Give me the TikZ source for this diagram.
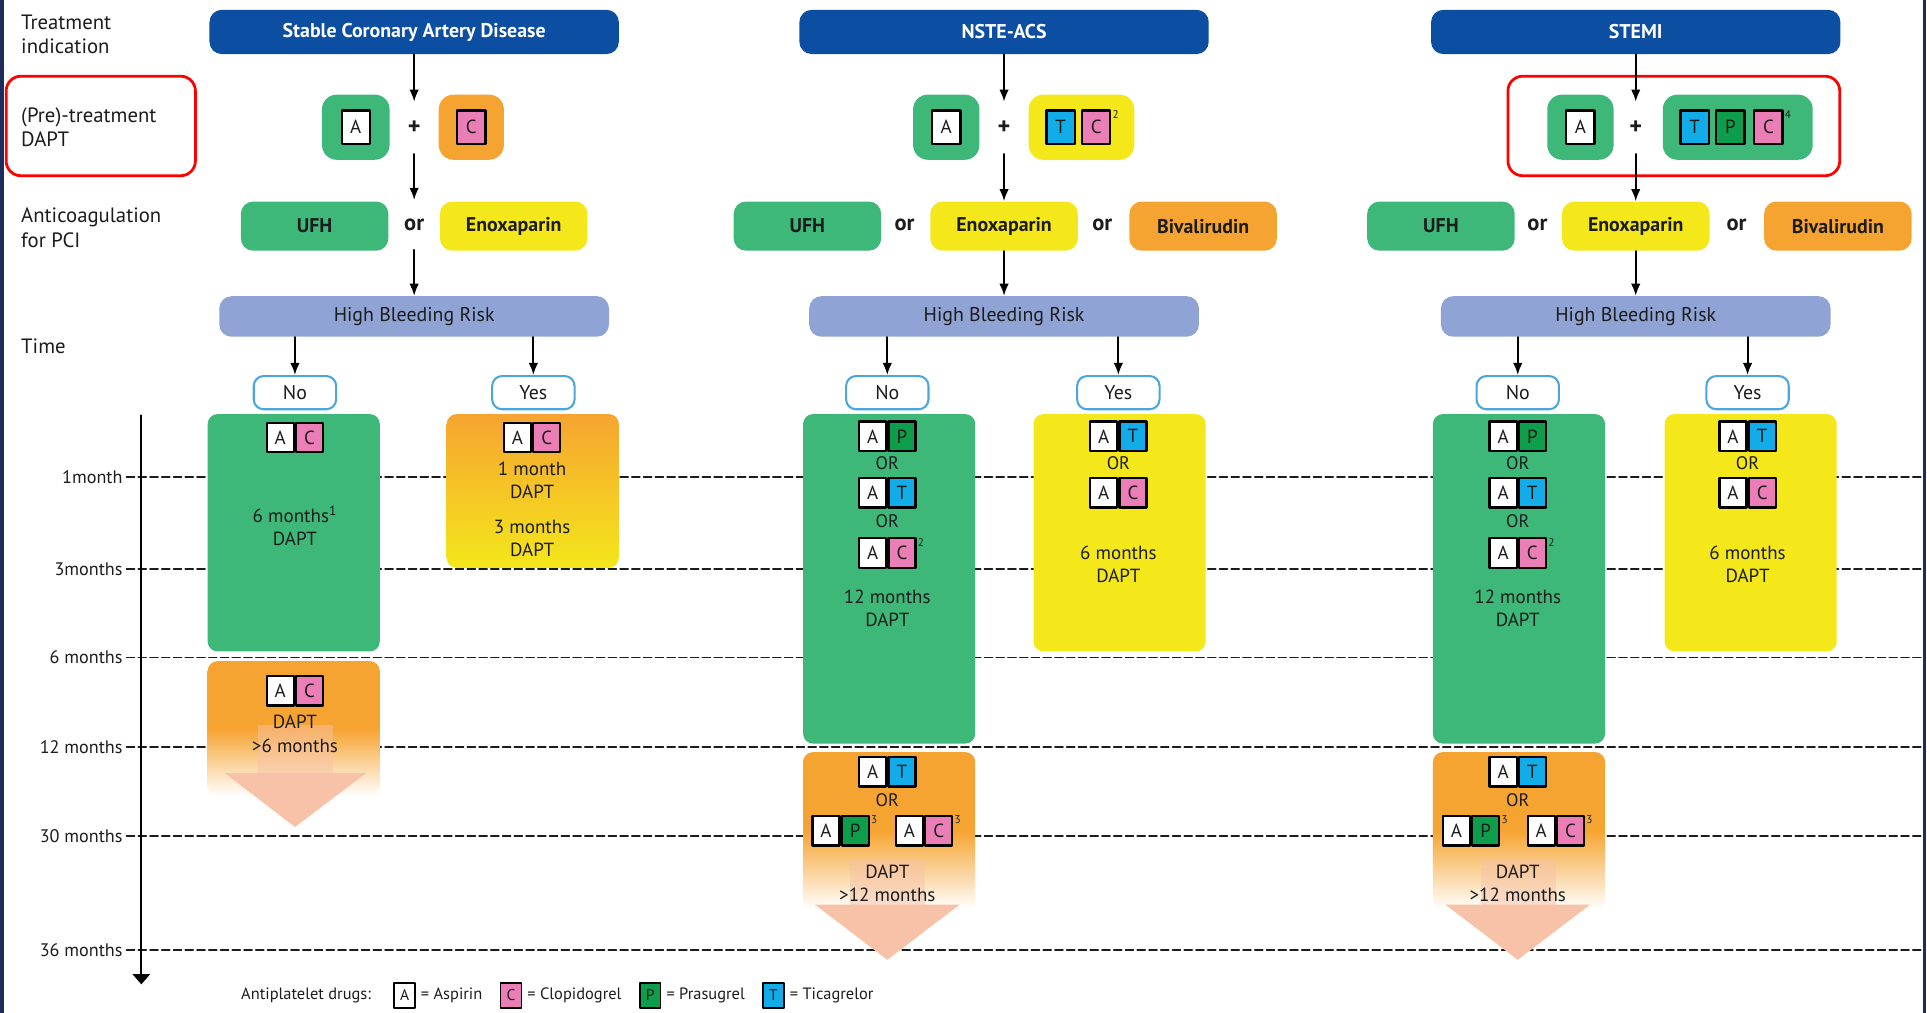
\documentclass[tikz,border=0pt]{standalone}
\usepackage{fontspec}
\setmainfont{PT Sans}
\usepackage{tikz}
\usetikzlibrary{arrows.meta,positioning,calc}

\definecolor{hdblue}{HTML}{0B4EA2}
\definecolor{boxgreen}{HTML}{3DB879}
\definecolor{boxorange}{HTML}{F6A431}
\definecolor{boxyellow}{HTML}{F4E71A}
\definecolor{hbrblue}{HTML}{8FA3D4}
\definecolor{drugpink}{HTML}{EC7EB7}
\definecolor{drugblue}{HTML}{12ADE8}
\definecolor{druggreen}{HTML}{0E9D4B}
\definecolor{nyblue}{HTML}{4AA6DD}
\definecolor{peach}{HTML}{F8C2A8}
\definecolor{navyframe}{HTML}{1C2C5E}
\definecolor{ink}{HTML}{1C1C1C}

\tikzset{
  hdbox/.style={fill=hdblue, text=white, rounded corners=0.25cm, minimum width=8.325cm,
    minimum height=0.9cm, inner sep=0pt, font=\bfseries\fontsize{11.5}{13}\selectfont},
  prebox/.style={rounded corners=0.3cm, minimum height=1.325cm, inner sep=0pt},
  acbox/.style={rounded corners=0.25cm, minimum width=3cm, minimum height=1cm, inner sep=0pt,
    text=ink, font=\bfseries\fontsize{11.5}{13}\selectfont},
  hbrbox/.style={fill=hbrblue, rounded corners=0.25cm, minimum width=7.925cm,
    minimum height=0.825cm, inner sep=0pt, text=ink, font=\fontsize{11.5}{13}\selectfont},
  nybox/.style={draw=nyblue, line width=1.2pt, fill=white, rounded corners=0.2cm,
    minimum width=1.675cm, minimum height=0.675cm, inner sep=0pt, text=ink,
    font=\fontsize{11.5}{13}\selectfont},
  tbox/.style={rounded corners=0.2cm, minimum width=3.5cm, inner sep=0pt},
  drug/.style={draw=black, line width=1.3pt, minimum width=0.55cm, minimum height=0.6cm,
    inner sep=0pt, text=ink, font=\fontsize{11}{12}\selectfont},
  predrug/.style={drug, minimum width=0.575cm, minimum height=0.675cm},
  legdrug/.style={draw=black, line width=0.9pt, minimum width=0.42cm, minimum height=0.5cm,
    inner sep=0pt, text=ink, font=\fontsize{9}{10}\selectfont},
  legtext/.style={text=ink, inner sep=0pt, font=\fontsize{9.5}{11}\selectfont},
  bodytext/.style={text=ink, align=center, inner sep=0pt, font=\fontsize{11}{13.5}\selectfont},
  ortext/.style={text=ink, inner sep=0pt, font=\fontsize{10.5}{12}\selectfont},
  orbig/.style={text=ink, inner sep=0pt, minimum height=1cm, font=\bfseries\fontsize{13}{13}\selectfont},
  plus/.style={text=ink, inner sep=0pt, minimum height=1.05cm, font=\bfseries\fontsize{14}{14}\selectfont},
  supnum/.style={text=ink, inner sep=0.5pt, anchor=north west, font=\fontsize{6.5}{7}\selectfont},
  sidelab/.style={text=ink, anchor=west, align=left, inner sep=0pt, font=\fontsize{12}{14.2}\selectfont},
  timelab/.style={text=ink, anchor=east, inner sep=0pt, font=\fontsize{10.5}{12}\selectfont},
  arr/.style={-{Latex[length=7pt,width=5.5pt]}, line width=1.1pt, draw=black},
  tline/.style={draw=ink, line width=1pt, dash pattern=on 4.6pt off 2.2pt},
  redframe/.style={draw=red, line width=1.6pt, rounded corners=0.3cm}
}

% name, x, y, letter, colour
\newcommand{\drugpair}[5]{%
  \node[drug, fill=white, anchor=east] (#1a) at (#2,#3) {A};
  \node[drug, fill=#5, anchor=west] (#1b) at (#2,#3) {#4};
}

\begin{document}
\begin{tikzpicture}[x=0.025cm, y=-0.025cm, line cap=round, line join=round]
\useasboundingbox (0,0) rectangle (1568,824);
\draw[navyframe, line width=2pt] (1.5,0) -- (1.5,824);
\draw[navyframe, line width=2pt] (1566,0) -- (1566,824);

% left side labels
\node[sidelab] (lbtreat) at (17,28) {Treatment\\indication};
\node[sidelab] (lbpre) at (17,103.5) {(Pre)-treatment\\DAPT};
\node[sidelab] (lbanti) at (17,185.5) {Anticoagulation\\for PCI};
\node[sidelab] (lbtime) at (17,282) {Time};
\draw[redframe] (5,62) rectangle (159,143);
\draw[redframe] (1227,62) rectangle (1497,143);

% time scale
\foreach \t/\lab/\y in {m1/1month/388, m3/3months/463, m6/6 months/535,
    m12/12 months/608, m30/30 months/680, m36/36 months/773}{
  \node[timelab] (\t) at (100,\y) {\lab};
  \coordinate (\t r) at (1566,\y);
  \draw[tline] (\t.east) ++(3,0) -- (\t r);
}
\coordinate (ttop) at (115,338);
\coordinate (tbot) at (115,801);
\draw[line width=1.3pt, -{Triangle[length=6pt,width=10pt]}] (ttop) -- (tbot);

% Stable CAD
\node[hdbox] (cad) at (337,26) {Stable Coronary Artery Disease};
\node[prebox, fill=boxgreen, minimum width=1.375cm] (cadpa) at (289.5,103.5) {};
\node[predrug, fill=white] (cadA) at (cadpa) {A};
\node[plus] (cadplus) at (337,104) {+};
\node[prebox, fill=boxorange, minimum width=1.325cm] (cadpb) at (383.5,103.5) {};
\node[predrug, fill=drugpink] (cadC) at (cadpb) {C};
\node[acbox, fill=boxgreen] (cadufh) at (256,184) {UFH};
\node[orbig] (cador) at (337,183) {or};
\node[acbox, fill=boxyellow] (cadenox) at (418,184) {Enoxaparin};
\node[hbrbox] (cadhbr) at (337,257.5) {High Bleeding Risk};
\node[nybox] (cadno) at (240,319.5) {No};
\node[nybox] (cadyes) at (434,319.5) {Yes};
\draw[arr] (cad) -- (cadplus);
\draw[arr] (cadplus) -- (cador);
\draw[arr] (cador) -- (cadhbr);
\draw[arr] (cadhbr.south -| cadno) -- (cadno);
\draw[arr] (cadhbr.south -| cadyes) -- (cadyes);

\node[tbox, fill=boxgreen, minimum height=4.825cm] (cadg) at (239,433.5) {};
\drugpair{cadgac}{240}{356}{C}{drugpink}
\node[bodytext] (cadgtxt) at (240,428) {6 months\textsuperscript{1}\\DAPT};
\node[tbox, top color=boxorange, bottom color=white, middle color=boxorange,
  minimum height=2.75cm] (cado) at (239,593) {};
\fill[peach, fill opacity=0.5] (210,590) rectangle (271,629);
\fill[peach] (183,629) -- (298,629) -- (240,673) -- cycle;
\drugpair{cadoac}{240}{562}{C}{drugpink}
\node[bodytext] (cadotxt) at (240,597) {DAPT\\>6 months};
\node[tbox, top color=boxorange, bottom color=boxyellow, minimum height=3.125cm] (cady) at (433.5,399.5) {};
\drugpair{cadyac}{433}{356}{C}{drugpink}
\node[bodytext] (cadyta) at (433,391) {1 month\\DAPT};
\node[bodytext] (cadytb) at (433,438) {3 months\\DAPT};

% NSTE-ACS
\node[hdbox] (acs) at (817,26) {NSTE-ACS};
\node[prebox, fill=boxgreen, minimum width=1.35cm] (acspa) at (770,103.5) {};
\node[predrug, fill=white] (acsA) at (acspa) {A};
\node[plus] (acsplus) at (817,104) {+};
\node[prebox, fill=boxyellow, minimum width=2.15cm] (acspb) at (880,103.5) {};
\node[predrug, fill=drugblue] (acsT) at (863,103.5) {T};
\node[predrug, fill=drugpink] (acsC) at (892,103.5) {C};
\node[supnum] (acsCs) at (acsC.north east) {2};
\node[acbox, fill=boxgreen] (acsufh) at (657,184) {UFH};
\node[orbig] (acsora) at (736,183) {or};
\node[acbox, fill=boxyellow] (acsenox) at (817,184) {Enoxaparin};
\node[orbig] (acsorb) at (897,183) {or};
\node[acbox, fill=boxorange] (acsbiv) at (979,184) {Bivalirudin};
\node[hbrbox] (acshbr) at (817,257.5) {High Bleeding Risk};
\node[nybox] (acsno) at (722,319.5) {No};
\node[nybox] (acsyes) at (910,319.5) {Yes};
\draw[arr] (acs) -- (acsplus);
\draw[arr] (acsplus) -- (acsenox);
\draw[arr] (acsenox) -- (acshbr);
\draw[arr] (acshbr.south -| acsno) -- (acsno);
\draw[arr] (acshbr.south -| acsyes) -- (acsyes);

\node[tbox, fill=boxgreen, minimum height=6.7cm] (acsg) at (723.5,471) {};
\drugpair{acsgap}{722}{355}{P}{druggreen}
\node[ortext] (acsgora) at (722,377) {OR};
\drugpair{acsgat}{722}{401}{T}{drugblue}
\node[ortext] (acsgorb) at (722,424) {OR};
\drugpair{acsgac}{722}{450}{C}{drugpink}
\node[supnum] (acsgacs) at (acsgacb.north east) {2};
\node[bodytext] (acsgtxt) at (722,495) {12 months\\DAPT};
\node[tbox, top color=boxorange, bottom color=white, middle color=boxorange,
  minimum height=3.2cm] (acso) at (723.5,676) {};
\fill[peach, fill opacity=0.5] (692,700) rectangle (753,736);
\fill[peach] (663,736) -- (781,736) -- (722,781) -- cycle;
\drugpair{acsoat}{722}{628}{T}{drugblue}
\node[ortext] (acsoor) at (722,651) {OR};
\drugpair{acsoap}{684}{676}{P}{druggreen}
\node[supnum] (acsoaps) at (acsoapb.north east) {3};
\drugpair{acsoac}{752}{676}{C}{drugpink}
\node[supnum] (acsoacs) at (acsoacb.north east) {3};
\node[bodytext] (acsotxt) at (722,719) {DAPT\\>12 months};
\node[tbox, fill=boxyellow, minimum height=4.825cm] (acsy) at (911,433.5) {};
\drugpair{acsyat}{910}{355}{T}{drugblue}
\node[ortext] (acsyor) at (910,377) {OR};
\drugpair{acsyac}{910}{401}{C}{drugpink}
\node[bodytext] (acsytxt) at (910,459) {6 months\\DAPT};

% STEMI
\node[hdbox] (stemi) at (1331,26) {STEMI};
\node[prebox, fill=boxgreen, minimum width=1.35cm] (stemipa) at (1286,103.5) {};
\node[predrug, fill=white] (stemiA) at (stemipa) {A};
\node[plus] (stemiplus) at (1331,104) {+};
\node[prebox, fill=boxgreen, minimum width=3.05cm] (stemipb) at (1414,103.5) {};
\node[predrug, fill=drugblue] (stemiT) at (1379,103.5) {T};
\node[predrug, fill=druggreen] (stemiP) at (1408,103.5) {P};
\node[predrug, fill=drugpink] (stemiC) at (1439,103.5) {C};
\node[supnum] (stemiCs) at (stemiC.north east) {4};
\node[acbox, fill=boxgreen] (stemiufh) at (1172.5,184) {UFH};
\node[orbig] (stemiora) at (1251,183) {or};
\node[acbox, fill=boxyellow] (stemienox) at (1331,184) {Enoxaparin};
\node[orbig] (stemiorb) at (1413,183) {or};
\node[acbox, fill=boxorange] (stemibiv) at (1495.5,184) {Bivalirudin};
\node[hbrbox] (stemihbr) at (1331,257.5) {High Bleeding Risk};
\node[nybox] (stemino) at (1235,319.5) {No};
\node[nybox] (stemiyes) at (1422,319.5) {Yes};
\draw[arr] (stemi) -- (stemiplus);
\draw[arr] (stemiplus) -- (stemienox);
\draw[arr] (stemienox) -- (stemihbr);
\draw[arr] (stemihbr.south -| stemino) -- (stemino);
\draw[arr] (stemihbr.south -| stemiyes) -- (stemiyes);

\node[tbox, fill=boxgreen, minimum height=6.7cm] (stemig) at (1236,471) {};
\drugpair{stemigap}{1235}{355}{P}{druggreen}
\node[ortext] (stemigora) at (1235,377) {OR};
\drugpair{stemigat}{1235}{401}{T}{drugblue}
\node[ortext] (stemigorb) at (1235,424) {OR};
\drugpair{stemigac}{1235}{450}{C}{drugpink}
\node[supnum] (stemigacs) at (stemigacb.north east) {2};
\node[bodytext] (stemigtxt) at (1235,495) {12 months\\DAPT};
\node[tbox, top color=boxorange, bottom color=white, middle color=boxorange,
  minimum height=3.2cm] (stemio) at (1236,676) {};
\fill[peach, fill opacity=0.5] (1205,700) rectangle (1266,736);
\fill[peach] (1176,736) -- (1294,736) -- (1235,781) -- cycle;
\drugpair{stemioat}{1235}{628}{T}{drugblue}
\node[ortext] (stemioor) at (1235,651) {OR};
\drugpair{stemioap}{1197}{676}{P}{druggreen}
\node[supnum] (stemioaps) at (stemioapb.north east) {3};
\drugpair{stemioac}{1266}{676}{C}{drugpink}
\node[supnum] (stemioacs) at (stemioacb.north east) {3};
\node[bodytext] (stemiotxt) at (1235,719) {DAPT\\>12 months};
\node[tbox, fill=boxyellow, minimum height=4.825cm] (stemiy) at (1424.5,433.5) {};
\drugpair{stemiyat}{1422}{355}{T}{drugblue}
\node[ortext] (stemiyor) at (1422,377) {OR};
\drugpair{stemiyac}{1422}{401}{C}{drugpink}
\node[bodytext] (stemiytxt) at (1422,459) {6 months\\DAPT};

% legend
\node[legtext, anchor=west] (legtitle) at (196,810) {Antiplatelet drugs:};
\node[legdrug, fill=white, right=0.45cm of legtitle] (legA) {A};
\node[legtext, right=0.1cm of legA] (legAt) {= Aspirin};
\node[legdrug, fill=drugpink, right=0.35cm of legAt] (legC) {C};
\node[legtext, right=0.1cm of legC] (legCt) {= Clopidogrel};
\node[legdrug, fill=druggreen, right=0.35cm of legCt] (legP) {P};
\node[legtext, right=0.1cm of legP] (legPt) {= Prasugrel};
\node[legdrug, fill=drugblue, right=0.35cm of legPt] (legT) {T};
\node[legtext, right=0.1cm of legT] (legTt) {= Ticagrelor};
\end{tikzpicture}
\end{document}
